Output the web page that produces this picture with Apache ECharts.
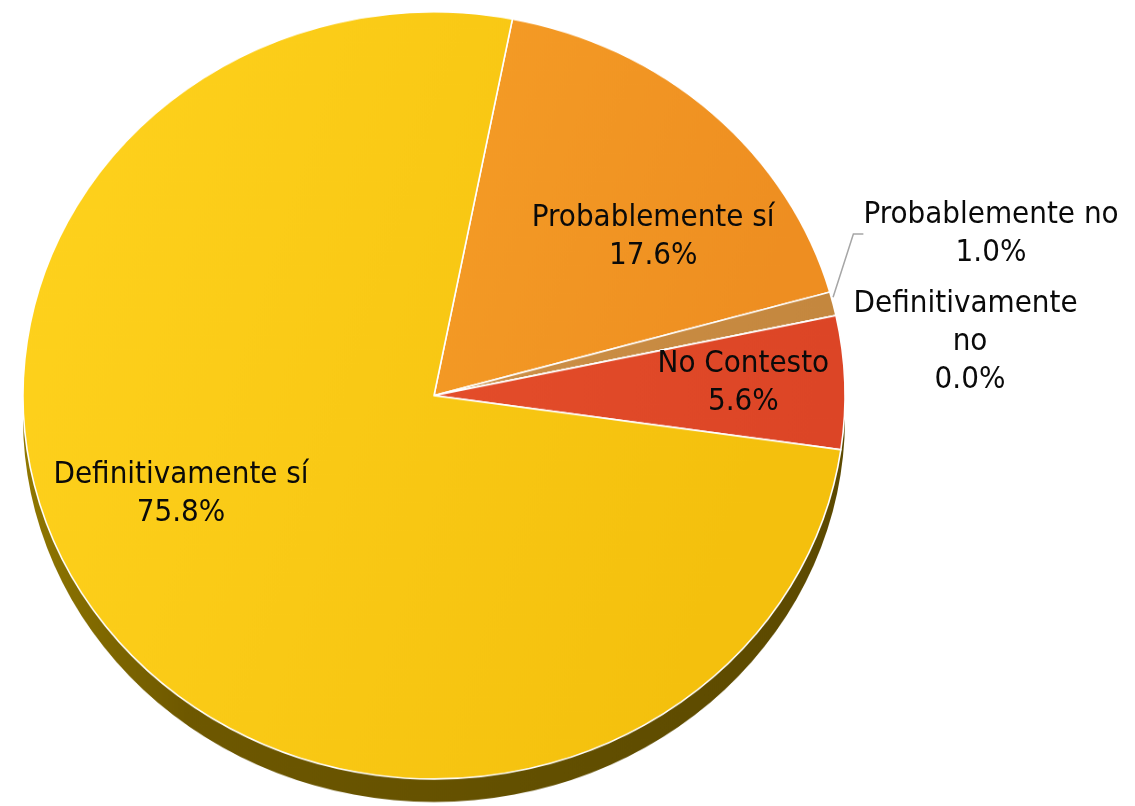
<!DOCTYPE html>
<html>
<head>
<meta charset="utf-8">
<script src="https://cdn.jsdelivr.net/npm/echarts@6/dist/echarts.min.js"></script>
<style>
  html, body { margin: 0; padding: 0; background: #ffffff; }
  #stage { position: relative; width: 1135px; height: 806px; overflow: hidden; }
  /* the disc is drawn round, then flattened into a tilted ellipse */
  #disc { position: absolute; left: 0; top: 0; width: 1135px; height: 864px;
          transform: scaleY(0.9331); transform-origin: 0 0; }
  #labels { position: absolute; left: 0; top: 0; width: 1135px; height: 806px; }
</style>
</head>
<body>
<div id="stage">
  <div id="disc"></div>
  <div id="labels"></div>
</div>
<script>
// answers, in clockwise order starting from 12 o'clock
const categories = ['Probablemente sí', 'Probablemente no', 'Definitivamente no', 'No Contesto', 'Definitivamente sí'];
const shares = [17.6, 1.0, 0.0, 5.6, 75.8];

const sliceColors = [
  ['#F59D26', '#EE8E21'],
  ['#CD9048', '#C4873E'],
  ['#CD9048', '#C4873E'],
  ['#E44D2A', '#DC4526'],
  ['#FFD31E', '#F4C00D']
];

const FONT = "'DejaVu Sans Condensed', 'DejaVu Sans', sans-serif";
const TILT = 0.9331;             // vertical squash of the disc
const CX = 434, CY = 395.5, R = 411, DEPTH = 23, START = 79;

function grad(c) {
  return { type: 'linear', x: 0, y: 0, x2: 1, y2: 0.3,
           colorStops: [{ offset: 0, color: c[0] }, { offset: 1, color: c[1] }] };
}

// ---- disc: side wall + top face ----
const disc = echarts.init(document.getElementById('disc'), null, { renderer: 'canvas' });
disc.setOption({
  animation: false,
  series: [
    {
      type: 'pie', silent: true, z: 1,
      center: [CX, (CY + DEPTH) / TILT], radius: R,
      label: { show: false }, labelLine: { show: false },
      data: [{ value: 1, itemStyle: { color: {
        type: 'linear', x: 0, y: 0, x2: 1, y2: 0,
        colorStops: [
          { offset: 0, color: '#907700' },
          { offset: 0.2, color: '#6E5800' },
          { offset: 0.6, color: '#635000' },
          { offset: 1, color: '#5C4900' }
        ] } } }]
    },
    {
      type: 'pie', silent: true, z: 2,
      center: [CX, CY / TILT], radius: R,
      startAngle: START, clockwise: true,
      label: { show: false }, labelLine: { show: false },
      itemStyle: { borderColor: '#ffffff', borderWidth: 1.6 },
      data: categories.map((name, i) => ({
        name, value: shares[i], itemStyle: { color: grad(sliceColors[i]) }
      }))
    }
  ]
});

// ---- labels, laid out on the same slices ----
const outsideIdx = [1, 2];
const nudges = { 0: [27, 50], 3: [26, -3], 4: [-22, -66] };
const anchors = { 1: [991, 234], 2: [970, 342] };

const labels = echarts.init(document.getElementById('labels'), null, { renderer: 'canvas' });
labels.setOption({
  animation: false,
  series: [{
    type: 'pie', silent: true,
    center: [CX, CY], radius: [150, R],
    startAngle: START, clockwise: true,
    avoidLabelOverlap: false,
    itemStyle: { color: 'rgba(0,0,0,0)' },
    label: {
      show: true, color: '#0a0a0a', fontFamily: FONT, fontSize: 31, lineHeight: 38,
      formatter: p => p.name + '\n' + p.value.toFixed(1) + '%'
    },
    labelLine: { lineStyle: { color: '#a6a6a6', width: 1.5 } },
    data: categories.map((name, i) => {
      const outside = outsideIdx.indexOf(i) >= 0;
      const item = {
        name, value: shares[i],
        label: { position: outside ? 'outside' : 'inside', align: 'center' },
        labelLine: { show: i === 1, length: 10, length2: 10 }
      };
      if (i === 2) { item.label.width = 240; item.label.overflow = 'break'; }
      return item;
    }),
    labelLayout: function (p) {
      const i = p.dataIndex;
      if (anchors[i]) {
        return { x: anchors[i][0], y: anchors[i][1], align: 'center', verticalAlign: 'middle' };
      }
      if (nudges[i]) { return { dx: nudges[i][0], dy: nudges[i][1] }; }
      return {};
    }
  }]
});
</script>
</body>
</html>
